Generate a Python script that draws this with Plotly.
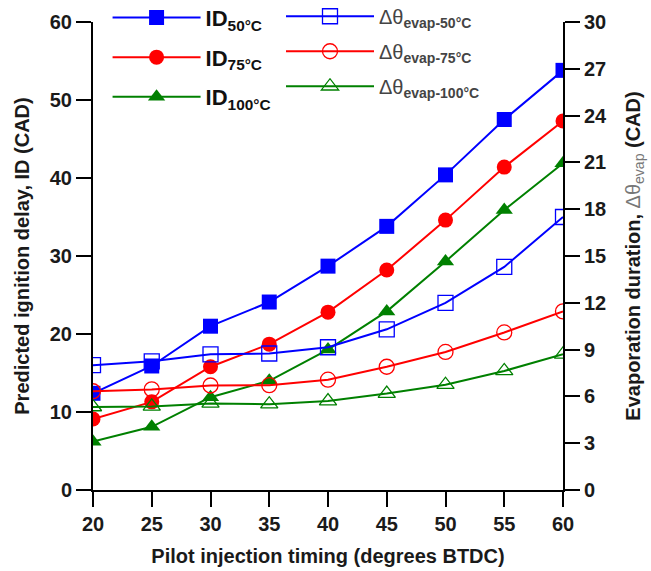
import plotly.graph_objects as go

# Pilot injection timing (degrees BTDC)
timing = [20, 25, 30, 35, 40, 45, 50, 55, 60]

# Predicted ignition delay (CAD), left axis
id_50 = [12.4, 15.9, 21.0, 24.1, 28.7, 33.8, 40.4, 47.5, 53.8]
id_75 = [9.1, 11.3, 15.8, 18.7, 22.8, 28.2, 34.6, 41.4, 47.3]
id_100 = [6.2, 8.1, 11.9, 14.0, 18.0, 22.9, 29.3, 35.9, 41.9]

# Evaporation duration (CAD), right axis
evap_50 = [8.0, 8.25, 8.7, 8.75, 9.15, 10.3, 12.0, 14.3, 17.5]
evap_75 = [6.33, 6.45, 6.7, 6.72, 7.07, 7.9, 8.85, 10.1, 11.45]
evap_100 = [5.32, 5.36, 5.55, 5.5, 5.7, 6.18, 6.75, 7.63, 8.7]

left_ticks = [0, 10, 20, 30, 40, 50, 60]
right_ticks = [0, 3, 6, 9, 12, 15, 18, 21, 24, 27, 30]
x_ticks = [20, 25, 30, 35, 40, 45, 50, 55, 60]

BLUE = "#0000FF"
RED = "#FF0000"
GREEN = "#008000"
FONT = "Liberation Sans, Arial, sans-serif"
INK = "#1a1a1a"

fig = go.Figure()

filled = [
    (id_50, BLUE, "square", "<b>ID</b><sub><b>50°C</b></sub>"),
    (id_75, RED, "circle", "<b>ID</b><sub><b>75°C</b></sub>"),
    (id_100, GREEN, "triangle-up", "<b>ID</b><sub><b>100°C</b></sub>"),
]
for i, (vals, col, sym, name) in enumerate(filled):
    fig.add_trace(go.Scatter(
        x=timing, y=vals, name=name, mode="lines+markers",
        line=dict(color=col, width=2),
        marker=dict(symbol=sym, size=15, color=col),
        legend="legend", legendgroup=f"id{i}",
    ))

hollow = [
    (evap_50, BLUE, "square-open", "Δθ<sub><b>evap-50°C</b></sub>"),
    (evap_75, RED, "circle-open", "Δθ<sub><b>evap-75°C</b></sub>"),
    (evap_100, GREEN, "triangle-up-open", "Δθ<sub><b>evap-100°C</b></sub>"),
]
for i, (vals, col, sym, name) in enumerate(hollow):
    fig.add_trace(go.Scatter(
        x=timing, y=vals, name=name, mode="lines+markers", yaxis="y2",
        line=dict(color=col, width=2),
        marker=dict(symbol=sym, size=15, color=col, line=dict(width=1.3)),
        legend="legend2", legendgroup=f"ev{i}",
    ))

axis_common = dict(
    showline=True, linecolor="black", linewidth=2,
    ticks="outside", ticklen=15, tickwidth=2, tickcolor="black",
    showgrid=False, zeroline=False,
    tickfont=dict(family=FONT, size=20, color=INK, weight="bold"),
)
title_font = dict(family=FONT, size=20, color=INK)

fig.update_layout(
    width=651, height=571,
    margin=dict(l=93, r=88, t=22, b=81, autoexpand=False),
    paper_bgcolor="white", plot_bgcolor="white",
    font=dict(family=FONT, color=INK),
    xaxis=dict(
        range=[20, 60], tickvals=x_ticks,
        title=dict(text="<b>Pilot injection timing (degrees BTDC)</b>",
                   font=title_font),
        **axis_common,
    ),
    yaxis=dict(
        range=[0, 60], tickvals=left_ticks,
        title=dict(text="<b>Predicted ignition delay, ID (CAD)</b>",
                   font=title_font),
        **axis_common,
    ),
    yaxis2=dict(
        range=[0, 30], tickvals=right_ticks, overlaying="y", side="right",
        title=dict(text="<b>Evaporation duration, </b><span style='color:#777'>Δθ<sub>evap</sub></span><b> (CAD)</b>",
                   font=title_font, standoff=20),
        **axis_common,
    ),
    legend=dict(
        x=0.031, y=1.054, xanchor="left", yanchor="top",
        bgcolor="rgba(0,0,0,0)", itemwidth=88, tracegroupgap=8,
        font=dict(family=FONT, size=22, color="#111"),
    ),
    legend2=dict(
        x=0.40, y=1.054, xanchor="left", yanchor="top",
        bgcolor="rgba(0,0,0,0)", itemwidth=88, tracegroupgap=6,
        font=dict(family=FONT, size=20, color="#444"),
    ),
    showlegend=True,
)

fig.write_html("out.html")
